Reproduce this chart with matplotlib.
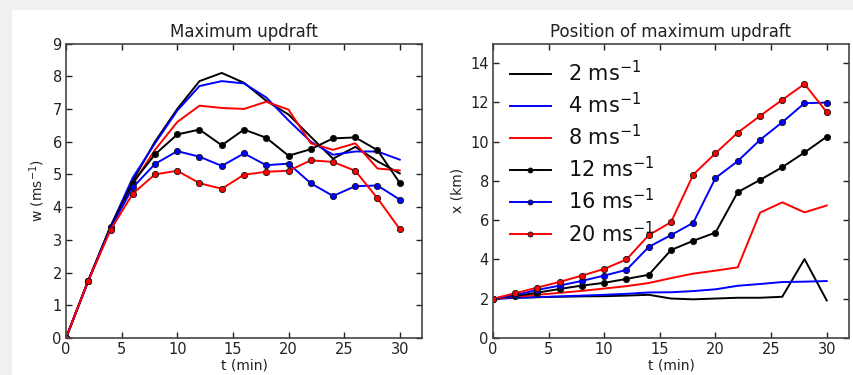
import numpy as np
import matplotlib
matplotlib.use('Agg')
import matplotlib.pyplot as plt
from matplotlib.patches import Rectangle

# time axis (min)
t = [0, 2, 4, 6, 8, 10, 12, 14, 16, 18, 20, 22, 24, 26, 28, 30]

labels = ['2 ms$^{-1}$', '4 ms$^{-1}$', '8 ms$^{-1}$',
          '12 ms$^{-1}$', '16 ms$^{-1}$', '20 ms$^{-1}$']

# maximum updraft w (m/s)
w2  = [0, 1.75, 3.4, 4.8, 6.0, 7.0, 7.85, 8.1, 7.8, 7.25, 6.83, 6.15, 5.48, 5.84, 5.4, 5.03]
w4  = [0, 1.75, 3.4, 4.9, 5.95, 6.95, 7.7, 7.85, 7.78, 7.35, 6.65, 6.0, 5.6, 5.7, 5.7, 5.45]
w8  = [0, 1.75, 3.35, 4.7, 5.75, 6.6, 7.1, 7.03, 7.0, 7.22, 6.98, 5.95, 5.75, 5.95, 5.18, 5.12]
w12 = [0, 1.75, 3.4, 4.75, 5.61, 6.22, 6.37, 5.89, 6.37, 6.12, 5.57, 5.77, 6.1, 6.13, 5.74, 4.74]
w16 = [0, 1.75, 3.35, 4.6, 5.32, 5.71, 5.54, 5.26, 5.64, 5.28, 5.33, 4.73, 4.34, 4.64, 4.66, 4.23]
w20 = [0, 1.75, 3.3, 4.41, 5.0, 5.11, 4.73, 4.56, 4.99, 5.08, 5.11, 5.43, 5.38, 5.11, 4.27, 3.33]

# position of maximum updraft x (km)
x2  = [2.0, 2.05, 2.08, 2.1, 2.12, 2.13, 2.16, 2.2, 2.01, 1.97, 2.01, 2.05, 2.05, 2.1, 4.02, 1.91]
x4  = [2.0, 2.04, 2.08, 2.12, 2.16, 2.2, 2.25, 2.32, 2.33, 2.39, 2.48, 2.66, 2.75, 2.85, 2.87, 2.9]
x8  = [2.0, 2.1, 2.2, 2.3, 2.4, 2.52, 2.64, 2.8, 3.05, 3.28, 3.43, 3.6, 6.38, 6.91, 6.4, 6.75]
x12 = [2.0, 2.14, 2.31, 2.5, 2.67, 2.81, 3.01, 3.22, 4.48, 4.95, 5.37, 7.43, 8.05, 8.7, 9.45, 10.25]
x16 = [2.0, 2.19, 2.45, 2.67, 2.91, 3.18, 3.47, 4.64, 5.24, 5.87, 8.15, 9.01, 10.09, 10.99, 11.96, 11.99]
x20 = [2.0, 2.28, 2.57, 2.86, 3.18, 3.52, 4.0, 5.24, 5.9, 8.32, 9.41, 10.46, 11.31, 12.13, 12.94, 11.5]

plt.rcParams['font.family'] = ['DejaVu Sans']
plt.rcParams['mathtext.fontset'] = 'dejavusans'

fig = plt.figure(figsize=(8.54, 3.75), dpi=100, facecolor='#eef0f2')
# white panel behind the plots
fig.patches.append(Rectangle((12 / 854, 0), 1, 365 / 375, transform=fig.transFigure,
                             facecolor='white', edgecolor='none', zorder=-10))

ax1 = fig.add_axes([66 / 854, 37 / 375, 356 / 854, 294.5 / 375])
ax2 = fig.add_axes([493 / 854, 37 / 375, 356 / 854, 294.5 / 375])

lw = 1.4
mk = dict(marker='o', ms=4.5, mec='#111111', mew=0.6)

for ax, data in [(ax1, [w2, w4, w8, w12, w16, w20]), (ax2, [x2, x4, x8, x12, x16, x20])]:
    cols = ['k', 'b', 'r', 'k', 'b', 'r']
    for i in range(6):
        if i < 3:
            ax.plot(t, data[i], color=cols[i], lw=lw, label=labels[i])
        else:
            ax.plot(t, data[i], color=cols[i], lw=lw, label=labels[i], **mk)
    ax.set_xlim(0, 32)
    ax.set_xticks([0, 5, 10, 15, 20, 25, 30])
    ax.tick_params(direction='in', length=4, width=1, top=True, right=True,
                   labelsize=10.5, colors='#222222', pad=3)
    for sp in ax.spines.values():
        sp.set_color('#444444')
        sp.set_linewidth(1.2)
    ax.set_xlabel('t (min)', fontsize=10, labelpad=1, color='#222222')

ax1.set_ylim(0, 9)
ax1.set_yticks(range(10))
ax1.set_ylabel('w (ms$^{-1}$)', fontsize=10, color='#222222')
ax1.set_title('Maximum updraft', fontsize=12, pad=5, color='#222222')

ax2.set_ylim(0, 15)
ax2.set_yticks([0, 2, 4, 6, 8, 10, 12, 14])
ax2.set_ylabel('x (km)', fontsize=10, color='#222222')
ax2.set_title('Position of maximum updraft', fontsize=12, pad=5, color='#222222')

leg = ax2.legend(loc='upper left', frameon=False, fontsize=15, numpoints=1,
                 labelspacing=0.33, handlelength=2.0, handletextpad=0.8,
                 borderaxespad=0.4, markerscale=0.8)
for txt in leg.get_texts():
    txt.set_color('#111111')

plt.savefig('out.png', dpi=100, facecolor=fig.get_facecolor())
